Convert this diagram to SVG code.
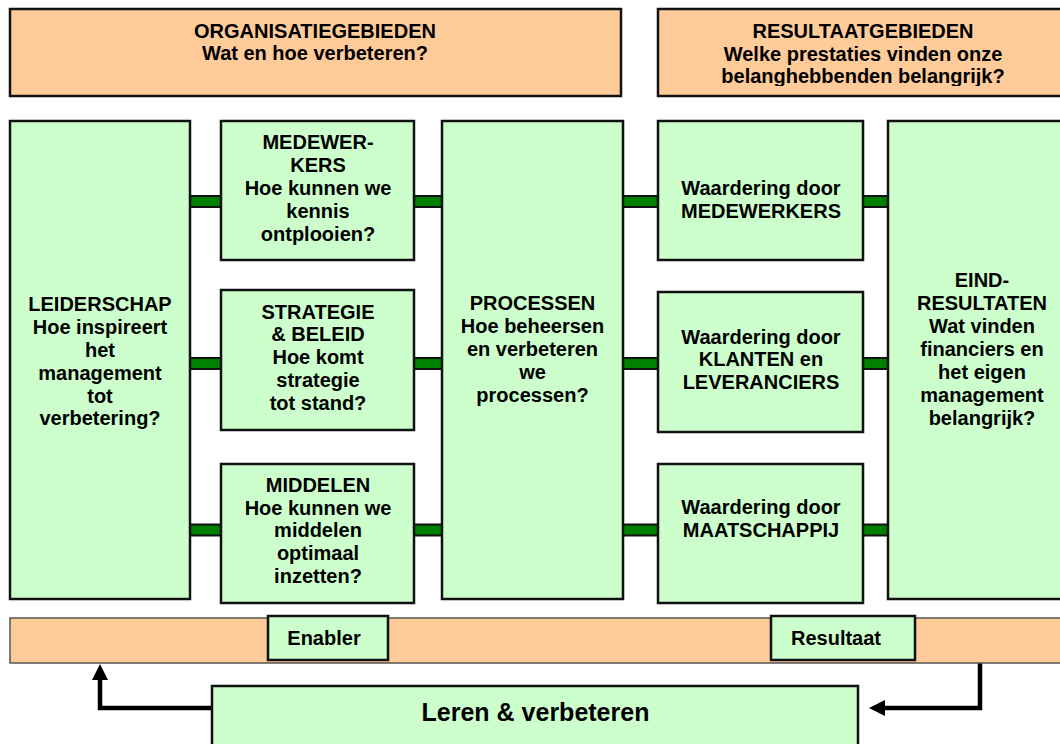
<svg xmlns="http://www.w3.org/2000/svg" width="1060" height="744" viewBox="0 0 1060 744">
<style>
.box{fill:#CCFFCC;stroke:#111;stroke-width:2.5}
.hdr{fill:#FFCC99;stroke:#111;stroke-width:2.5}
.bar{fill:#FFCC99;stroke:#555;stroke-width:1.5}
.conn{fill:#008000;stroke:#111;stroke-width:2}
.arr{fill:none;stroke:#000;stroke-width:4.5}
text{font-family:"Liberation Sans",Arial,sans-serif;font-weight:bold;font-size:20px;fill:#000;text-anchor:middle}
.big{font-size:25px}
</style>
<defs>
<marker id="ah" markerUnits="userSpaceOnUse" viewBox="0 0 16 16" refX="1" refY="8" markerWidth="16" markerHeight="16" orient="auto">
<path d="M0,0 L16,8 L0,16 z" fill="#000"/>
</marker>
<clipPath id="hclip"><rect x="658" y="9" width="420" height="77"/></clipPath>
</defs>
<rect width="1060" height="744" fill="#fff"/>

<g id="hdr-org">
<rect class="hdr" x="10" y="9" width="611" height="87"/>
<text x="315" y="38">ORGANISATIEGEBIEDEN</text>
<text x="315" y="60">Wat en hoe verbeteren?</text>
</g>
<g id="hdr-res">
<rect class="hdr" x="658" y="9" width="420" height="87"/>
<g clip-path="url(#hclip)">
<text x="863" y="38">RESULTAATGEBIEDEN</text>
<text x="863" y="61">Welke prestaties vinden onze</text>
<text x="863" y="83">belanghebbenden belangrijk?</text>
</g>
</g>

<g id="connectors">
<rect class="conn" x="189" y="196" width="34" height="11"/>
<rect class="conn" x="189" y="358" width="34" height="11"/>
<rect class="conn" x="189" y="524.5" width="34" height="11"/>
<rect class="conn" x="412" y="196" width="32" height="11"/>
<rect class="conn" x="412" y="358" width="32" height="11"/>
<rect class="conn" x="412" y="524.5" width="32" height="11"/>
<rect class="conn" x="621" y="196" width="39" height="11"/>
<rect class="conn" x="621" y="358" width="39" height="11"/>
<rect class="conn" x="621" y="524.5" width="39" height="11"/>
<rect class="conn" x="861" y="196" width="29" height="11"/>
<rect class="conn" x="861" y="358" width="29" height="11"/>
<rect class="conn" x="861" y="524.5" width="29" height="11"/>
<path class="arr" d="M212,708 H100 V679" marker-end="url(#ah)"/>
<path class="arr" d="M980,663 V708 H884" marker-end="url(#ah)"/>
</g>

<g id="leiderschap">
<rect class="box" x="10" y="121" width="180" height="478"/>
<text x="100" y="311">LEIDERSCHAP</text>
<text x="100" y="334">Hoe inspireert</text>
<text x="100" y="357">het</text>
<text x="100" y="379.5">management</text>
<text x="100" y="402.5">tot</text>
<text x="100" y="425">verbetering?</text>
</g>

<g id="medewerkers">
<rect class="box" x="221" y="121" width="193" height="139"/>
<text x="318" y="149">MEDEWER-</text>
<text x="318" y="172">KERS</text>
<text x="318" y="195">Hoe kunnen we</text>
<text x="318" y="218">kennis</text>
<text x="318" y="240.5">ontplooien?</text>
</g>

<g id="strategie">
<rect class="box" x="221" y="290" width="193" height="140"/>
<text x="318" y="318.5">STRATEGIE</text>
<text x="318" y="341">&amp; BELEID</text>
<text x="318" y="364">Hoe komt</text>
<text x="318" y="387">strategie</text>
<text x="318" y="409.5">tot stand?</text>
</g>

<g id="middelen">
<rect class="box" x="221" y="464" width="193" height="139"/>
<text x="318" y="491.5">MIDDELEN</text>
<text x="318" y="514.5">Hoe kunnen we</text>
<text x="318" y="537">middelen</text>
<text x="318" y="560">optimaal</text>
<text x="318" y="582.5">inzetten?</text>
</g>

<g id="processen">
<rect class="box" x="442" y="121" width="181" height="478"/>
<text x="532.5" y="310">PROCESSEN</text>
<text x="532.5" y="333">Hoe beheersen</text>
<text x="532.5" y="356">en verbeteren</text>
<text x="532.5" y="378.5">we</text>
<text x="532.5" y="401.5">processen?</text>
</g>

<g id="waardering-medewerkers">
<rect class="box" x="658" y="121" width="205" height="139"/>
<text x="761" y="195">Waardering door</text>
<text x="761" y="218">MEDEWERKERS</text>
</g>

<g id="waardering-klanten">
<rect class="box" x="658" y="292" width="205" height="140"/>
<text x="761" y="343.5">Waardering door</text>
<text x="761" y="366">KLANTEN en</text>
<text x="761" y="389">LEVERANCIERS</text>
</g>

<g id="waardering-maatschappij">
<rect class="box" x="658" y="464" width="205" height="139"/>
<text x="761" y="514">Waardering door</text>
<text x="761" y="537">MAATSCHAPPIJ</text>
</g>

<g id="eindresultaten">
<rect class="box" x="888" y="121" width="190" height="478"/>
<text x="982" y="287">EIND-</text>
<text x="982" y="310">RESULTATEN</text>
<text x="982" y="333">Wat vinden</text>
<text x="982" y="356">financiers en</text>
<text x="982" y="379">het eigen</text>
<text x="982" y="402">management</text>
<text x="982" y="425">belangrijk?</text>
</g>

<g id="balk">
<rect class="bar" x="10" y="618" width="1070" height="45"/>
</g>
<g id="enabler">
<rect class="box" x="268" y="616" width="120" height="44"/>
<text x="324" y="645">Enabler</text>
</g>
<g id="resultaat">
<rect class="box" x="771" y="616" width="144" height="44"/>
<text x="836" y="645">Resultaat</text>
</g>

<g id="leren">
<rect class="box" x="212" y="686" width="646" height="80"/>
<text class="big" x="535.5" y="721">Leren &amp; verbeteren</text>
</g>
</svg>
